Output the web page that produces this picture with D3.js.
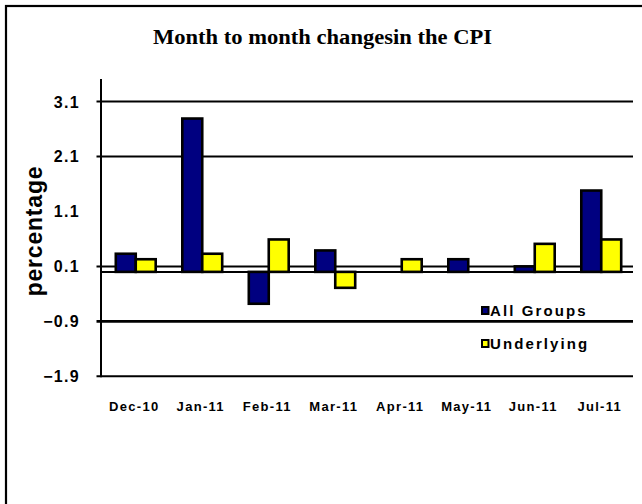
<!DOCTYPE html>
<html><head><meta charset="utf-8">
<script src="https://cdn.jsdelivr.net/npm/d3@7"></script>
<style>body{margin:0;background:#fff}svg{display:block}</style>
</head><body>
<svg id="c" width="642" height="504"></svg>
<script>
const months = ["Dec-10","Jan-11","Feb-11","Mar-11","Apr-11","May-11","Jun-11","Jul-11"];
const allGroups = [0.33, 2.79, -0.58, 0.39, 0, 0.23, 0.1, 1.48];
const underlying = [0.23, 0.33, 0.59, -0.29, 0.23, 0, 0.51, 0.59];
const tickLabels = [3.1, 2.1, 1.1, 0.1, -0.9, -1.9];
const gridValues = [3.1, 2.1, 0.1, -0.9, -1.9];
const seriesNames = ["All Groups", "Underlying"];
const colors = ["#000080", "#ffff00"];

const svg = d3.select("#c");
const L = 101, R = 633, T = 79;
const y = d3.scaleLinear().domain([-1.9, 3.1]).range([376.3, 101.5]);
const x = d3.scaleBand().domain(months).range([102.5, 634.5]).paddingInner(0.4).paddingOuter(0.2);
const xs = d3.scaleBand().domain([0,1]).range([0, x.bandwidth()]);

// frame
svg.append("rect").attr("x",6).attr("y",6).attr("width",640).attr("height",500)
  .attr("fill","none").attr("stroke","#000").attr("stroke-width",2.2);

// title
svg.append("text").attr("x",153).attr("y",44)
  .attr("font-family","'Liberation Serif','Times New Roman',serif").attr("font-weight","bold")
  .attr("font-size",20).attr("textLength",339).attr("lengthAdjust","spacingAndGlyphs")
  .text("Month to month changesin the CPI");

// gridlines (with tick marks)
svg.append("g").selectAll("line").data(gridValues).join("line")
  .attr("x1",96.5).attr("x2",R).attr("y1",d=>y(d)).attr("y2",d=>y(d))
  .attr("stroke","#000").attr("stroke-width",d=>d===-0.9?2.6:2);

// y tick labels
svg.append("g").selectAll("text").data(tickLabels).join("text")
  .attr("x",80).attr("y",d=>y(d)+6)
  .attr("text-anchor","end")
  .attr("font-family","'Liberation Sans',Arial,sans-serif").attr("font-weight","bold")
  .attr("font-size",16).attr("letter-spacing",1.3)
  .text(d=>d3.format(".1f")(d));

// y axis label
svg.append("text").attr("transform","translate(42,231) rotate(-90)")
  .attr("text-anchor","middle")
  .attr("font-family","'Liberation Sans',Arial,sans-serif").attr("font-weight","bold")
  .attr("font-size",23).attr("letter-spacing",0.8)
  .text("percentage");

// bars
const series = [allGroups, underlying];
series.forEach((vals, si) => {
  svg.append("g").selectAll("rect").data(months.map((m,i)=>({m, v: vals[i]})).filter(d=>d.v!==0)).join("rect")
    .attr("x", d => x(d.m) + xs(si))
    .attr("width", xs.bandwidth())
    .attr("y", d => Math.min(y(0), y(d.v)))
    .attr("height", d => Math.abs(y(d.v) - y(0)))
    .attr("fill", colors[si]).attr("stroke","#000").attr("stroke-width",2.6);
});

// zero axis
svg.append("line").attr("x1",L).attr("x2",R).attr("y1",y(0)).attr("y2",y(0))
  .attr("stroke","#000").attr("stroke-width",2);

// y axis line
svg.append("line").attr("x1",L).attr("x2",L).attr("y1",T).attr("y2",y(-1.9)+1)
  .attr("stroke","#000").attr("stroke-width",2);

// x labels
svg.append("g").selectAll("text").data(months).join("text")
  .attr("x", d => x(d) + x.bandwidth()/2 - 1.5).attr("y", 411)
  .attr("text-anchor","middle")
  .attr("font-family","'Liberation Sans',Arial,sans-serif").attr("font-weight","bold")
  .attr("font-size",13).attr("letter-spacing",1.3)
  .text(d=>d);

// legend
const lg = svg.append("g");
const legendY = [310.5, 343.5];
seriesNames.forEach((n,i)=>{
  lg.append("rect").attr("x",482).attr("y",legendY[i]-3.5).attr("width",6.5).attr("height",7)
    .attr("fill",colors[i]).attr("stroke","#000").attr("stroke-width",2);
  lg.append("text").attr("x",490).attr("y",legendY[i]+5)
    .attr("font-family","'Liberation Sans',Arial,sans-serif").attr("font-weight","bold")
    .attr("font-size",15).attr("letter-spacing",2.1)
    .text(n);
});
</script>
</body></html>
